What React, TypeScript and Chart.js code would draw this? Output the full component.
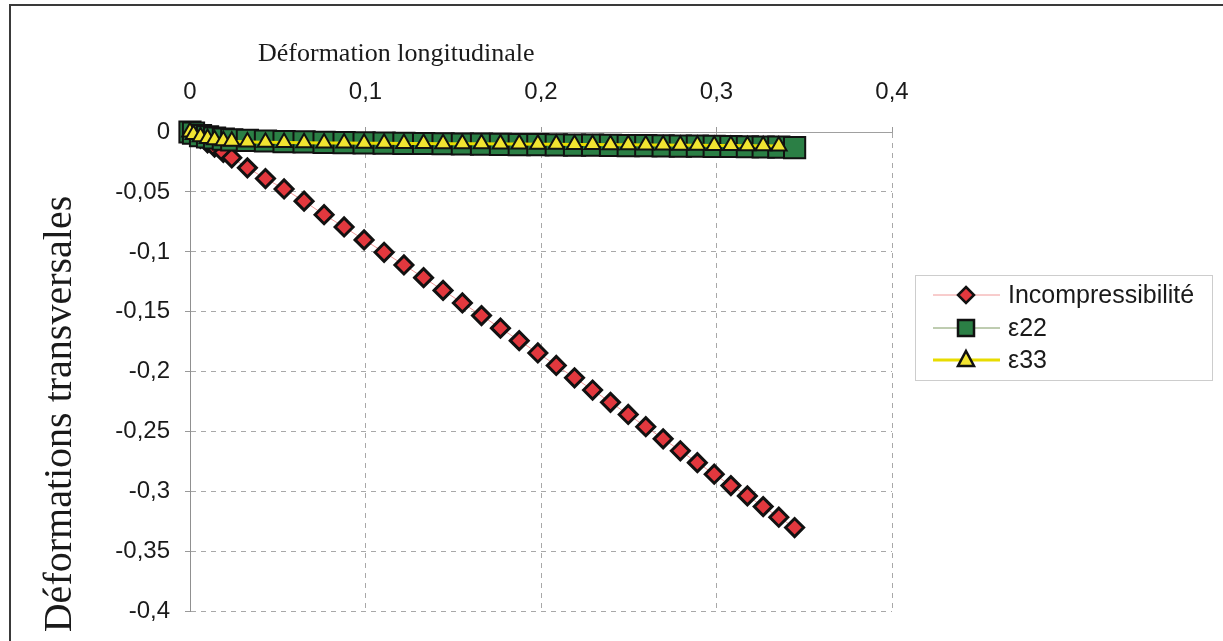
import React, { useEffect, useRef } from 'react';
import { Chart, registerables } from 'chart.js';

Chart.register(...registerables);

// ---------- data ----------
const X_VALUES = [
  0, 0.002, 0.006, 0.010, 0.014, 0.019, 0.0238, 0.0327, 0.0430, 0.0536,
  0.0650, 0.0764, 0.0878, 0.0992, 0.1106, 0.1219, 0.1331, 0.1442, 0.1552, 0.1661,
  0.1769, 0.1876, 0.1982, 0.2087, 0.2191, 0.2294, 0.2396, 0.2497, 0.2597, 0.2696,
  0.2794, 0.2891, 0.2987, 0.3082, 0.3176, 0.3266, 0.3355, 0.3445,
];

const INCOMPRESSIBILITE = [
  0, -0.0018, -0.0054, -0.009, -0.0126, -0.0171, -0.0215, -0.0299, -0.0388, -0.0475,
  -0.0577, -0.069, -0.0792, -0.090, -0.1003, -0.1109, -0.1215, -0.1321, -0.1426, -0.1531,
  -0.1636, -0.1740, -0.1843, -0.1947, -0.2050, -0.2152, -0.2255, -0.2356, -0.2458, -0.2559,
  -0.2659, -0.2758, -0.2854, -0.2949, -0.3035, -0.3124, -0.3213, -0.3299,
];

const EPS22 = [
  0, -0.001, -0.003, -0.004, -0.005, -0.006, -0.0065, -0.007, -0.0075, -0.008,
  -0.0083, -0.0086, -0.0088, -0.009, -0.0092, -0.0094, -0.0096, -0.0098, -0.010, -0.0101,
  -0.0103, -0.0105, -0.0106, -0.0108, -0.0109, -0.011, -0.0112, -0.0113, -0.0114, -0.0115,
  -0.0117, -0.0118, -0.012, -0.0121, -0.0123, -0.0125, -0.0127, -0.013,
];

const EPS33 = [
  0, -0.002, -0.004, -0.0055, -0.0065, -0.0072, -0.0078, -0.0083, -0.0086, -0.0088,
  -0.009, -0.0091, -0.0092, -0.0093, -0.0094, -0.0095, -0.0096, -0.0097, -0.0098, -0.0099,
  -0.010, -0.0101, -0.0102, -0.0103, -0.0104, -0.0105, -0.0106, -0.0107, -0.0108, -0.0109,
  -0.011, -0.0111, -0.0112, -0.0113, -0.0114, -0.0115, -0.0116,
];

const SERIES_NAMES = ['Incompressibilité', 'ε22', 'ε33'];
const X_TICKS = [0, 0.1, 0.2, 0.3, 0.4];
const Y_TICKS = [0, -0.05, -0.1, -0.15, -0.2, -0.25, -0.3, -0.35, -0.4];
const X_TITLE = 'Déformation longitudinale';
const Y_TITLE = 'Déformations transversales';

// ---------- styles ----------
const RED = '#e2383e';
const GREEN = '#2b7f45';
const YELLOW = '#f1e431';
const EDGE = '#111111';
const SANS = '"Liberation Sans", Arial, sans-serif';
const SERIF = '"Liberation Serif", "Times New Roman", serif';

const fmt = (v: number) => String(Math.round(v * 100) / 100).replace('.', ',');

const toPoints = (ys: number[]) => ys.map((y, i) => ({ x: X_VALUES[i], y }));

function drawMarker(ctx: CanvasRenderingContext2D, kind: string, x: number, y: number) {
  ctx.beginPath();
  if (kind === 'diamond') {
    const r = 8;
    ctx.moveTo(x, y - r); ctx.lineTo(x + r, y); ctx.lineTo(x, y + r); ctx.lineTo(x - r, y);
    ctx.closePath();
    ctx.fillStyle = RED;
  } else if (kind === 'square') {
    ctx.rect(x - 8, y - 8, 16, 16);
    ctx.fillStyle = GREEN;
  } else {
    ctx.moveTo(x, y - 9); ctx.lineTo(x + 8, y + 6); ctx.lineTo(x - 8, y + 6);
    ctx.closePath();
    ctx.fillStyle = YELLOW;
  }
  ctx.fill();
  ctx.lineWidth = 2.5;
  ctx.strokeStyle = EDGE;
  ctx.stroke();
}

const titlesPlugin = {
  id: 'customTitles',
  afterDraw(chart: any) {
    const { ctx, chartArea } = chart;
    ctx.save();
    ctx.fillStyle = '#1a1a1a';
    ctx.font = `26px ${SERIF}`;
    ctx.textAlign = 'left';
    ctx.textBaseline = 'alphabetic';
    ctx.fillText(X_TITLE, chartArea.left + 68, 61);
    ctx.translate(60, 414);
    ctx.rotate(-Math.PI / 2);
    ctx.font = `40px ${SERIF}`;
    ctx.textAlign = 'center';
    ctx.textBaseline = 'middle';
    ctx.fillText(Y_TITLE, 0, 0);
    ctx.restore();
  },
};

const legendPlugin = {
  id: 'customLegend',
  afterDraw(chart: any) {
    const { ctx, chartArea } = chart;
    const lx = chartArea.right + 23;
    const ly = 275;
    ctx.save();
    ctx.strokeStyle = '#9a9a9a';
    ctx.lineWidth = 1;
    ctx.setLineDash([1, 1]);
    ctx.strokeRect(lx + 0.5, ly + 0.5, 297, 105);
    ctx.setLineDash([]);
    const rows = [ly + 20, ly + 53, ly + 85];
    const lines = [
      { color: '#f19a9a', width: 1, kind: 'diamond' },
      { color: '#7f9a63', width: 1, kind: 'square' },
      { color: '#e8dc00', width: 3, kind: 'triangle' },
    ];
    rows.forEach((ry, i) => {
      ctx.beginPath();
      ctx.strokeStyle = lines[i].color;
      ctx.lineWidth = lines[i].width;
      ctx.moveTo(lx + 18, ry);
      ctx.lineTo(lx + 85, ry);
      ctx.stroke();
      drawMarker(ctx, lines[i].kind, lx + 51, ry);
      ctx.fillStyle = '#1a1a1a';
      ctx.font = `25px ${SANS}`;
      ctx.textAlign = 'left';
      ctx.textBaseline = 'middle';
      ctx.fillText(SERIES_NAMES[i], lx + 93, ry + 1);
    });
    ctx.restore();
  },
};

export default function App() {
  const ref = useRef<HTMLCanvasElement>(null);

  useEffect(() => {
    const canvas = ref.current;
    if (!canvas) return;
    const chart = new Chart(canvas, {
      type: 'line',
      data: {
        datasets: [
          {
            label: SERIES_NAMES[0],
            data: toPoints(INCOMPRESSIBILITE),
            borderColor: '#f19a9a',
            borderWidth: 1,
            pointStyle: 'rectRot',
            pointRadius: 9,
            pointBackgroundColor: RED,
            pointBorderColor: EDGE,
            pointBorderWidth: 3,
            order: 2,
            clip: false,
          },
          {
            label: SERIES_NAMES[1],
            data: toPoints(EPS22),
            borderColor: '#7f9a63',
            borderWidth: 1,
            pointStyle: 'rect',
            pointRadius: 15,
            pointBackgroundColor: GREEN,
            pointBorderColor: EDGE,
            pointBorderWidth: 2,
            order: 1,
            clip: false,
          },
          {
            label: SERIES_NAMES[2],
            data: toPoints(EPS33),
            borderColor: '#e8dc00',
            borderWidth: 3,
            pointStyle: 'triangle',
            pointRadius: 9,
            pointBackgroundColor: YELLOW,
            pointBorderColor: EDGE,
            pointBorderWidth: 2,
            order: 0,
            clip: false,
          },
        ],
      },
      options: {
        responsive: false,
        animation: false,
        devicePixelRatio: 1,
        layout: { padding: { top: 0, left: 0, right: 331, bottom: 14 } },
        plugins: {
          legend: { display: false },
          tooltip: { enabled: false },
          title: { display: false },
        },
        elements: { line: { tension: 0 } },
        scales: {
          x: {
            type: 'linear',
            position: 'top',
            min: 0,
            max: 0.4,
            afterBuildTicks: (s: any) => { s.ticks = X_TICKS.map((v) => ({ value: v })); },
            afterFit: (s: any) => { s.height = 132; },
            ticks: {
              callback: (v: any) => fmt(Number(v)),
              font: { family: SANS, size: 24 },
              color: '#1a1a1a',
              padding: 20,
              maxRotation: 0,
            },
            grid: { color: '#a8a8a8', lineWidth: 1, tickLength: 5, tickColor: '#999' },
            border: { display: true, color: '#a0a0a0', width: 1, dash: [5, 5] },
          },
          y: {
            type: 'linear',
            min: -0.4,
            max: 0,
            afterBuildTicks: (s: any) => { s.ticks = Y_TICKS.map((v) => ({ value: v })); },
            afterFit: (s: any) => { s.width = 190; },
            ticks: {
              callback: (v: any) => fmt(Number(v)),
              font: { family: SANS, size: 24 },
              color: '#1a1a1a',
              padding: 15,
            },
            grid: { color: '#a8a8a8', lineWidth: 1, tickLength: 5, tickColor: '#999' },
            border: { display: true, color: '#909090', width: 1, dash: [5, 5] },
          },
        },
      },
      plugins: [titlesPlugin, legendPlugin],
    } as any);
    return () => chart.destroy();
  }, []);

  return (
    <div style={{ position: 'absolute', left: 0, top: 0, width: 1223, height: 641, overflow: 'hidden', background: '#ffffff' }}>
      <div style={{ position: 'absolute', left: 9, top: 4, width: 1400, height: 900, border: '2px solid #3a3a3a' }} />
      <canvas ref={ref} width={1223} height={641} style={{ position: 'absolute', left: 0, top: 0, display: 'block' }} />
    </div>
  );
}
